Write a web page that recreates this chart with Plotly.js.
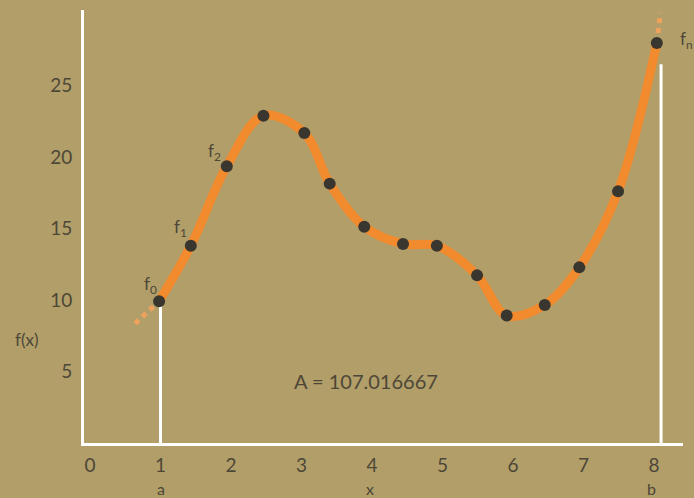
<!DOCTYPE html>
<html>
<head>
<meta charset="utf-8">
<script src="https://cdn.plot.ly/plotly-3.0.1.min.js"></script>
<style>html,body{margin:0;padding:0;background:#b09d68;}#chart{width:694px;height:498px;}</style>
</head>
<body>
<div id="chart"></div>
<script>
// Sample points from a to b (nominal step 0.5)
const xs = [0.98, 1.43, 1.94, 2.46, 3.04, 3.40, 3.89, 4.44, 4.92, 5.49, 5.91, 6.45, 6.94, 7.49, 8.04];
const fs = [9.92, 13.81, 19.36, 22.9, 21.69, 18.15, 15.14, 13.93, 13.81, 11.73, 8.92, 9.66, 12.29, 17.61, 27.99];
// faint dashed continuations of the curve beyond a and b
const extLeftX = [0.64, 0.98];
const extLeftY = [8.36, 9.92];
const extRightX = [8.04, 8.09];
const extRightY = [27.99, 30.1];
// bounds a and b (white verticals)
const boundX = [1, 8.1];
const boundTop = [9.92, 26.5];
const xTicks = [0, 1, 2, 3, 4, 5, 6, 7, 8];
const yTicks = [5, 10, 15, 20, 25];
const bottomLabels = ['a', 'x', 'b'];
const bottomLabelX = [1, 3.97, 7.97];
const pointLabels = ['f<sub>0</sub>', 'f<sub>1</sub>', 'f<sub>2</sub>', 'f<sub>n</sub>'];
const pointLabelIdx = [0, 1, 2, 14];
const areaText = 'A = 107.016667';

const bg = '#b19e69';
const ink = '#4d4737';
const orange = '#f28a2e';
const dot = '#38362f';
const font = 'Lato, "Open Sans", sans-serif';

const traces = [
  {x: extLeftX, y: extLeftY, mode: 'lines', line: {color: '#f0a25c', width: 5, dash: 'dot'}, hoverinfo: 'skip'},
  {x: extRightX, y: extRightY, mode: 'lines', line: {color: '#f0a25c', width: 5, dash: 'dot'}, hoverinfo: 'skip'},
  {x: xs, y: fs, mode: 'lines', line: {color: orange, width: 9, shape: 'spline', smoothing: 1}},
  {x: xs, y: fs, mode: 'markers', marker: {color: dot, size: 12}}
];

const shapes = boundX.map((bx, i) => ({
  type: 'line', xref: 'x', yref: 'y', x0: bx, x1: bx, y0: 0, y1: boundTop[i],
  line: {color: '#ffffff', width: 3}, layer: 'below'
}));

const pointOffsets = [[-9, 16, 'center'], [-10, 18, 'center'], [-12, 14, 'center'], [21, 3, 'left']];
const annotations = [];
pointLabelIdx.forEach((idx, i) => {
  annotations.push({
    x: xs[idx], y: fs[idx], xref: 'x', yref: 'y', text: pointLabels[i], showarrow: false,
    xshift: pointOffsets[i][0], yshift: pointOffsets[i][1], xanchor: pointOffsets[i][2],
    font: {family: font, size: 17, color: ink}
  });
});
bottomLabels.forEach((t, i) => {
  annotations.push({
    x: bottomLabelX[i], y: 0, xref: 'x', yref: 'y', text: t, showarrow: false,
    yshift: -45, font: {family: font, size: 16, color: ink}
  });
});
annotations.push({
  x: -0.095, y: 7.24, xref: 'paper', yref: 'y', text: 'f(x)', showarrow: false,
  xanchor: 'center', font: {family: font, size: 17, color: ink}
});
annotations.push({
  x: 3.91, y: 4.37, xref: 'x', yref: 'y', text: areaText, showarrow: false,
  font: {family: font, size: 20, color: ink}
});

const layout = {
  width: 694, height: 498,
  margin: {l: 84, r: 11, t: 10, b: 55},
  paper_bgcolor: bg, plot_bgcolor: bg,
  showlegend: false,
  xaxis: {
    range: [-0.085, 8.411], tickvals: xTicks, ticktext: xTicks.map(String),
    showgrid: false, zeroline: false, showline: true, linecolor: '#ffffff', linewidth: 3,
    ticks: '', ticklabelstandoff: 3, tickfont: {family: font, size: 19, color: ink}
  },
  yaxis: {
    range: [0, 30.3], tickvals: yTicks, ticktext: yTicks.map(String),
    showgrid: false, zeroline: false, showline: true, linecolor: '#ffffff', linewidth: 3,
    ticks: '', ticklabelstandoff: 5, tickfont: {family: font, size: 19, color: ink}
  },
  shapes: shapes,
  annotations: annotations
};

Plotly.newPlot('chart', traces, layout, {staticPlot: true, displayModeBar: false});
</script>
</body>
</html>
